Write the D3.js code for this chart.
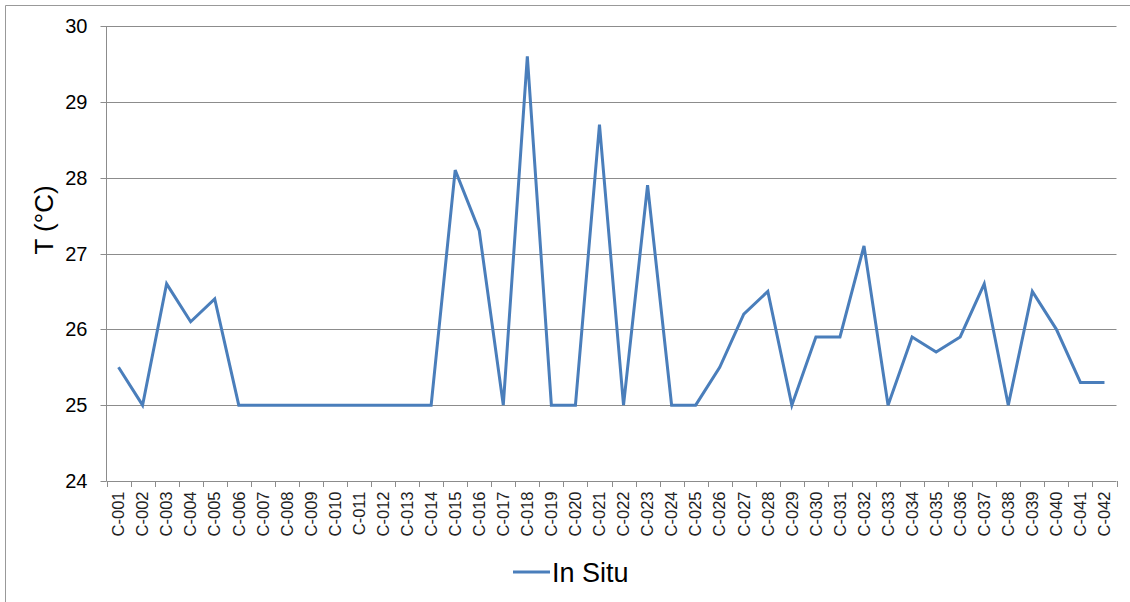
<!DOCTYPE html>
<html><head><meta charset="utf-8">
<script src="https://cdn.jsdelivr.net/npm/d3@7"></script>
<style>body{margin:0;background:#fff;} text{font-family:Arial,"Liberation Sans",sans-serif;}</style>
</head><body><svg id="c" width="1130" height="602"></svg>
<script>
const categories = ["C-001","C-002","C-003","C-004","C-005","C-006","C-007","C-008","C-009","C-010","C-011","C-012","C-013","C-014","C-015","C-016","C-017","C-018","C-019","C-020","C-021","C-022","C-023","C-024","C-025","C-026","C-027","C-028","C-029","C-030","C-031","C-032","C-033","C-034","C-035","C-036","C-037","C-038","C-039","C-040","C-041","C-042"];
const inSitu = [25.5,25.0,26.6,26.1,26.4,25.0,25.0,25.0,25.0,25.0,25.0,25.0,25.0,25.0,28.1,27.3,25.0,29.6,25.0,25.0,28.7,25.0,27.9,25.0,25.0,25.5,26.2,26.5,25.0,25.9,25.9,27.1,25.0,25.9,25.7,25.9,26.6,25.0,26.5,26.0,25.3,25.3];
const yTicks = [24,25,26,27,28,29,30];
const seriesName = "In Situ";

const svg = d3.select("#c");
const L = 106.5, R = 1116.5, T = 26, B = 481;
svg.append("path").attr("d","M5.5,602V5.5H1130").attr("fill","none").attr("stroke","#999");

const x = d3.scaleBand().domain(categories).range([L,R]);
const y = d3.scaleLinear().domain([24,30]).range([B,T]);

// gridlines
svg.append("g").selectAll("line").data(yTicks.slice(1)).join("line")
  .attr("x1",L).attr("x2",R).attr("y1",d=>Math.round(y(d))+0.5).attr("y2",d=>Math.round(y(d))+0.5)
  .attr("stroke","#8c8c8c").attr("stroke-width",1);

// y axis
const ya = svg.append("g").attr("transform",`translate(${L},0)`)
  .call(d3.axisLeft(y).tickValues(yTicks).tickSize(6).tickPadding(13).tickFormat(d3.format("d")));
ya.select(".domain").attr("stroke","#8c8c8c").attr("d",`M0,${B}V${T}`);
ya.selectAll(".tick line").attr("stroke","#8c8c8c");
ya.selectAll(".tick").attr("transform",d=>`translate(0,${Math.round(y(d))+0.5})`);
ya.selectAll("text").attr("font-size",20).attr("fill","#000").attr("font-family","Arial,'Liberation Sans',sans-serif");

// x axis
const xa = svg.append("g").attr("transform",`translate(0,${Math.round(B)+0.5})`)
  .call(d3.axisBottom(x).tickSize(0).tickPadding(0));
xa.select(".domain").attr("stroke","#8c8c8c").attr("d",`M${L},0H${R}`);
xa.selectAll(".tick text").attr("font-size",16.5).attr("fill","#222")
  .attr("font-family","Arial,'Liberation Sans',sans-serif")
  .attr("transform","rotate(-90)").attr("text-anchor","end").attr("dy","0.35em").attr("x",-10).attr("y",0);
// boundary ticks
svg.append("g").selectAll("line").data(d3.range(categories.length+1)).join("line")
  .attr("x1",i=>Math.round(L + i*x.step())+0.5).attr("x2",i=>Math.round(L + i*x.step())+0.5)
  .attr("y1",B).attr("y2",B+6).attr("stroke","#8c8c8c");

// line
const line = d3.line().x((d,i)=>x(categories[i])+x.bandwidth()/2).y(d=>y(d));
svg.append("path").datum(inSitu).attr("d",line).attr("fill","none")
  .attr("stroke","#4a7ebb").attr("stroke-width",3).attr("stroke-linejoin","miter");

// y title
svg.append("text").attr("transform","translate(53,220) rotate(-90)").attr("text-anchor","middle")
  .attr("font-size",26).attr("fill","#000").text("T (°C)");

// legend
svg.append("line").attr("x1",513).attr("x2",550).attr("y1",572).attr("y2",572).attr("stroke","#4a7ebb").attr("stroke-width",3);
svg.append("text").attr("x",552).attr("y",582).attr("font-size",27).attr("fill","#000").text(seriesName);
</script></body></html>
